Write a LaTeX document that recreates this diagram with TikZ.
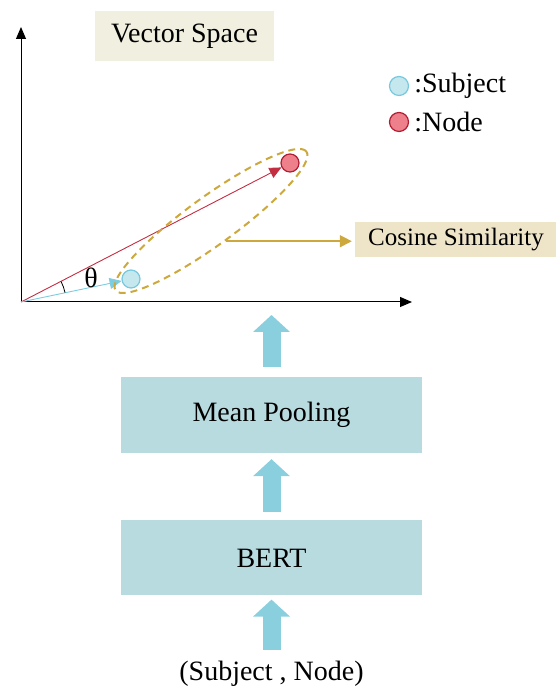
\documentclass[tikz,border=0pt]{standalone}
\usepackage{fontspec}
\setmainfont{Liberation Serif}
\usetikzlibrary{positioning,arrows.meta,shapes.geometric}

\definecolor{spacefill}{RGB}{240,239,224}
\definecolor{cosfill}{RGB}{238,228,200}
\definecolor{goldline}{RGB}{205,168,60}
\definecolor{blockfill}{RGB}{184,219,224}
\definecolor{arrowfill}{RGB}{138,207,222}
\definecolor{subjfill}{RGB}{197,232,238}
\definecolor{subjdraw}{RGB}{120,200,222}
\definecolor{nodefill}{RGB}{238,128,140}
\definecolor{nodedraw}{RGB}{175,30,50}
\definecolor{redline}{RGB}{195,45,65}
\definecolor{blueline}{RGB}{125,205,225}

\begin{document}
\begin{tikzpicture}[x=1pt, y=1pt,
        block/.style={rectangle, fill=blockfill, minimum width=301pt, minimum height=76pt, font=\fontsize{28}{32}\selectfont},
        tag/.style={rectangle, inner sep=0pt, font=\fontsize{28}{32}\selectfont},
        point/.style={circle, line width=1.2pt, minimum size=18pt, inner sep=0pt},
        axis/.style={draw, line width=1pt, -{Triangle[length=12pt,width=10pt]}},
        vec/.style={line width=0.9pt, -{Triangle[length=12pt,width=11pt]}},
        uparrow/.style={draw=arrowfill, line width=18pt, -{Triangle[length=17pt,width=36pt]}}]

    \useasboundingbox (0,0) rectangle (555,690);

    % axes of the vector space
    \coordinate (origin) at (21,388);
    \coordinate (ytop) at (21,663);
    \coordinate (xend) at (412,388);
    \draw[axis] (origin) -- (ytop);
    \draw[axis] (origin) -- (xend);

    \node[tag, fill=spacefill, minimum width=179pt, minimum height=50pt] (space) at (184.5,654) {Vector Space};

    % the two embeddings
    \node[point, draw=subjdraw, fill=subjfill] (subj) at (131,411) {};
    \node[point, draw=nodedraw, fill=nodefill] (obj) at (290,527) {};
    \draw[vec, draw=redline] (origin) -- (obj);
    \draw[vec, draw=blueline] (origin) -- (subj);
    \draw[line width=0.8pt] (origin) ++(12:45) arc[start angle=12, end angle=27, radius=45];
    \node[tag] (theta) at (91,412) {θ};

    \node[ellipse, draw=goldline, line width=2pt, dash pattern=on 7pt off 5pt, minimum width=236pt, minimum height=48pt, rotate=36] (pair) at (211,469) {};
    \node[tag, fill=cosfill, minimum width=202pt, minimum height=35pt, font=\fontsize{25}{28}\selectfont] (cosine) at (456,450.5) {Cosine Similarity};
    \draw[draw=goldline, line width=1.5pt, -{Triangle[length=12pt,width=12pt]}, shorten >=3pt] (pair.south) -- (pair.south -| cosine.west);

    % legend
    \node[point, draw=subjdraw, fill=subjfill, minimum size=19pt] (keysubj) at (399,604) {};
    \node[tag, right=5pt of keysubj] (keysubjtext) {:Subject};
    \node[point, draw=nodedraw, fill=nodefill, minimum size=19pt] (keyobj) at (399,568) {};
    \node[tag, right=5pt of keyobj] (keyobjtext) {:Node};

    % encoder
    \node[block] (pool) at (271.5,275) {Mean Pooling};
    \node[block, minimum height=75pt, below=67pt of pool] (bert) {BERT};
    \node[tag, below=65pt of bert] (input) {(Subject , Node)};
    \coordinate (top) at (271.5,375);

    \draw[uparrow, shorten <=11pt, shorten >=4pt] (input.north) -- (bert.south);
    \draw[uparrow, shorten <=8pt, shorten >=6pt] (bert.north) -- (pool.south);
    \draw[uparrow, shorten <=10pt] (pool.north) -- (top);
\end{tikzpicture}
\end{document}
